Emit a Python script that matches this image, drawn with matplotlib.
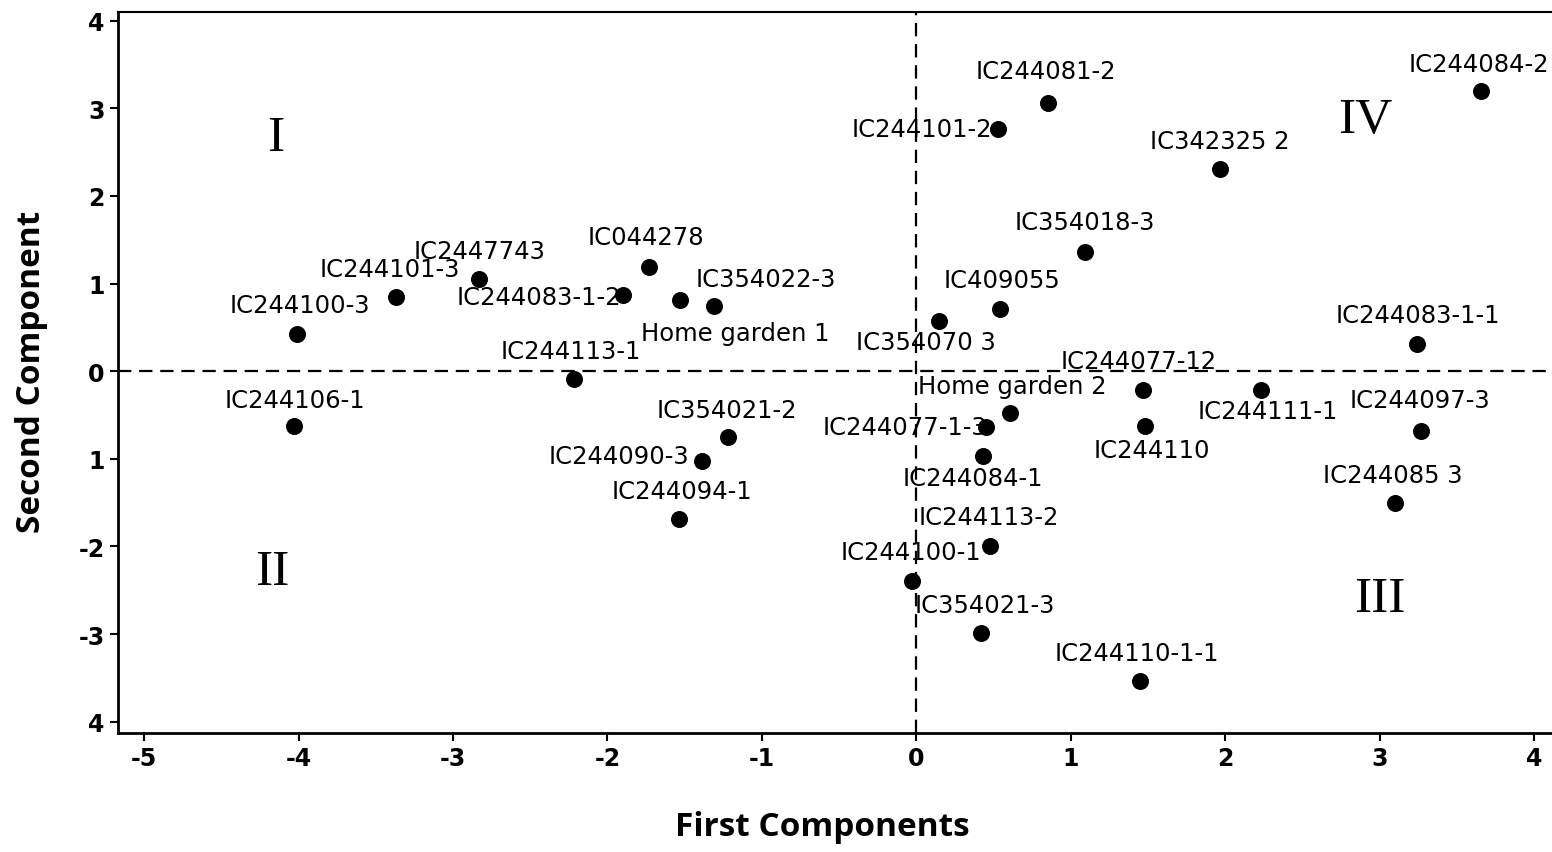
import matplotlib
matplotlib.use("Agg")
import matplotlib.pyplot as plt

# ---- data ----
names = ["IC244100-3", "IC244101-3", "IC2447743", "IC244083-1-2", "IC044278",
         "Home garden 1", "IC354022-3", "IC244113-1", "IC244106-1", "IC354021-2",
         "IC244090-3", "IC244094-1", "IC244081-2", "IC244101-2", "IC244084-2",
         "IC342325 2", "IC354018-3", "IC409055", "IC354070 3", "IC244083-1-1",
         "IC244077-12", "IC244111-1", "Home garden 2", "IC244077-1-3", "IC244084-1",
         "IC244110", "IC244097-3", "IC244085 3", "IC244113-2", "IC244100-1",
         "IC354021-3", "IC244110-1-1"]
first_comp = [-4.01, -3.37, -2.83, -1.90, -1.73,
              -1.53, -1.31, -2.22, -4.03, -1.22,
              -1.39, -1.54, 0.85, 0.53, 3.66,
              1.97, 1.09, 0.54, 0.15, 3.24,
              1.47, 2.23, 0.61, 0.45, 0.43,
              1.48, 3.27, 3.10, 0.48, -0.03,
              0.42, 1.45]
second_comp = [0.43, 0.85, 1.05, 0.87, 1.19,
               0.81, 0.74, -0.09, -0.62, -0.75,
               -1.03, -1.69, 3.06, 2.76, 3.20,
               2.31, 1.36, 0.71, 0.57, 0.31,
               -0.22, -0.21, -0.48, -0.64, -0.97,
               -0.63, -0.68, -1.50, -1.99, -2.40,
               -2.99, -3.54]
quadrants = ["I", "II", "III", "IV"]
quad_x = [-4.15, -4.17, 3.00, 2.91]
quad_y = [2.67, -2.29, -2.60, 2.87]
x_ticks = [-5, -4, -3, -2, -1, 0, 1, 2, 3, 4]
x_ticklabels = ["-5", "-4", "-3", "-2", "-1", "0", "1", "2", "3", "4"]
y_ticks = [4, 3, 2, 1, 0, -1, -2, -3, -4]
y_ticklabels = ["4", "3", "2", "1", "0", "1", "-2", "-3", "4"]

# ---- label layout (pixel offsets, alignment) ----
label_layout = {
    "IC244100-3": (3, 29, "center"), "IC244101-3": (-6, 28, "center"),
    "IC2447743": (0, 28, "center"), "IC244083-1-2": (-2, -2, "right"),
    "IC044278": (-3, 30, "center"), "Home garden 1": (55, -33, "center"),
    "IC354022-3": (52, 27, "center"), "IC244113-1": (-3, 28, "center"),
    "IC244106-1": (1, 26, "center"), "IC354021-2": (-1, 27, "center"),
    "IC244090-3": (-12, 5, "right"), "IC244094-1": (3, 28, "center"),
    "IC244081-2": (-2, 32, "center"), "IC244101-2": (-6, 0, "right"),
    "IC244084-2": (-3, 27, "center"), "IC342325 2": (-1, 28, "center"),
    "IC354018-3": (0, 30, "center"), "IC409055": (2, 29, "center"),
    "IC354070 3": (-14, -21, "center"), "IC244083-1-1": (1, 29, "center"),
    "IC244077-12": (-5, 29, "center"), "IC244111-1": (7, -21, "center"),
    "Home garden 2": (2, 27, "center"), "IC244077-1-3": (2, 0, "right"),
    "IC244084-1": (-10, -22, "center"), "IC244110": (7, -24, "center"),
    "IC244097-3": (-1, 31, "center"), "IC244085 3": (-2, 28, "center"),
    "IC244113-2": (-2, 29, "center"), "IC244100-1": (-1, 29, "center"),
    "IC354021-3": (4, 28, "center"), "IC244110-1-1": (-3, 28, "center"),
}

fig = plt.figure(figsize=(15.52, 8.53), dpi=100)
ax = fig.add_axes([118 / 1552, 1 - 734 / 853, (1552 - 118) / 1552, (734 - 13) / 853])

ax.set_xlim(-5.17, 4.117)
ax.set_ylim(-4.13, 4.10)

ax.axhline(0, color="black", lw=1.6, ls=(0, (6, 3.5)), zorder=1)
ax.axvline(0, color="black", lw=1.6, ls=(0, (6, 3.5)), zorder=1)

ax.scatter(first_comp, second_comp, s=150, color="black", zorder=3, linewidths=0)

for n, x, y in zip(names, first_comp, second_comp):
    dx, dy, ha = label_layout[n]
    ax.annotate(n, (x, y), xytext=(dx, dy), textcoords="offset pixels",
                ha=ha, va="center", fontsize=17.5, family="DejaVu Sans",
                color="black", zorder=4)

for q, x, y in zip(quadrants, quad_x, quad_y):
    ax.text(x, y, q, ha="center", va="center", fontsize=37,
            family="Liberation Serif", color="black")

ax.set_xticks(x_ticks)
ax.set_xticklabels(x_ticklabels)
ax.set_yticks(y_ticks)
ax.set_yticklabels(y_ticklabels)
ax.tick_params(axis="both", direction="out", length=6, width=1.5, labelsize=17,
               colors="black")
for lab in ax.get_xticklabels() + ax.get_yticklabels():
    lab.set_fontweight("bold")
    lab.set_family("DejaVu Sans")

for s in ["left", "bottom"]:
    ax.spines[s].set_linewidth(2.0)
ax.spines["top"].set_linewidth(1.5)
ax.spines["right"].set_visible(False)

fig.text(822 / 1552, 1 - 828 / 853, "First Components", ha="center", va="center",
         fontsize=24, fontweight="bold", family="Open Sans")
fig.text(32 / 1552, 1 - 372 / 853, "Second Component", ha="center", va="center",
         rotation=90, fontsize=24, fontweight="bold", family="Open Sans")

fig.savefig("out.png", dpi=100)
